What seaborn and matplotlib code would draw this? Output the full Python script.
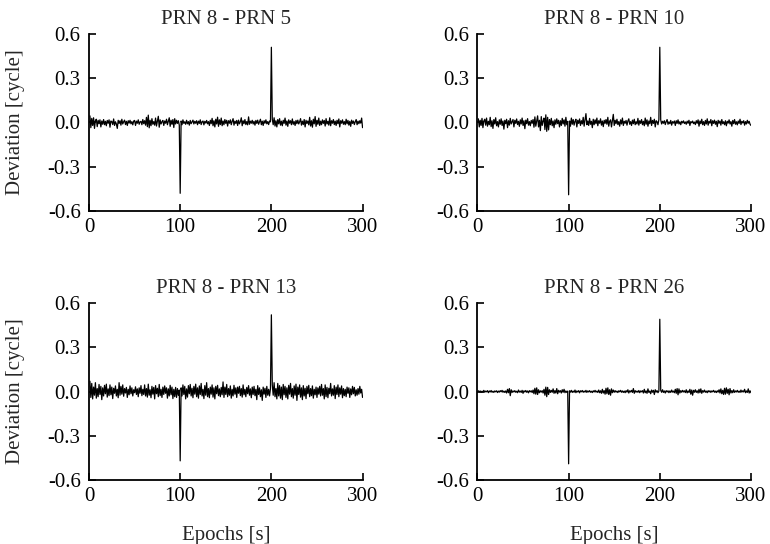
import numpy as np
import pandas as pd
import matplotlib
matplotlib.use("Agg")
import matplotlib.pyplot as plt
import seaborn as sns

# deviations in thousandths of a cycle, epochs 1..300
EPOCHS = list(range(1, 301))
TITLES = ["PRN 8 - PRN 5", "PRN 8 - PRN 10", "PRN 8 - PRN 13", "PRN 8 - PRN 26"]

PRN5 = [
    45, -35, 28, -20, 32, -40, 12, 22, -28, 15, -8, 18, -30, 10, -12, 20, -15, 8, -22, 14, -5, 18, -32, 10, 6, -14, 24, -20, 5, -10,
    -40, 15, -6, 12, -18, 22, -10, 5, 16, -14, 8, -20, 12, -4, 15, -9, 6, -16, 10, 14, -20, 9, -5, 18, -12, 4, 8, -15, 20, -8,
    12, -18, 35, -28, 50, -36, 15, -22, 26, -12, 6, -18, 30, -24, 10, 42, -32, 18, -10, 5, 14, -20, 10, -5, 22, -15, 8, 32, -26, 15,
    -12, 20, -34, 26, -10, 15, -6, 12, -18, -480, 10, -15, 18, -6, 5, -12, 15, -9, 6, -18, 14, -8, 4, 16, -10, 8, -5, 12, -15, 9,
    -6, 18, -14, 5, 10, -16, 8, -4, 14, -9, 6, -20, 15, -8, 28, -22, 12, -30, 22, -10, 36, -26, 18, -14, 30, -22, 10, -15, 20, -6,
    15, -24, 12, -5, 18, -15, 8, 26, -18, 9, -6, 14, -20, 16, -9, 5, 32, -22, 12, -8, 20, -14, 6, -16, 38, -12, 9, -5, 15, -10,
    8, -18, 14, -6, 16, -12, 5, 22, -15, 9, -20, 12, -5, 18, -9, 6, -14, 10, 4, 510, 22, -15, 32, -24, 12, -30, 20, -9, 26, -18,
    9, -22, 15, -6, 30, -18, 10, -26, 18, -5, 12, -15, 24, -12, 6, -20, 14, -8, 16, -10, 5, 26, -18, 9, -14, 20, -30, 15, -6, 10,
    -16, 35, -24, 12, -32, 22, -9, 40, -26, 15, -12, 30, -20, 9, -15, 18, -6, 14, -24, 26, -10, 8, -18, 32, -22, 12, -5, 20, -14, 9,
    -20, 15, -8, 24, -30, 12, -5, 18, -12, 6, -15, 22, -9, 14, -18, 8, -26, 16, -6, 10, -14, 5, 20, -15, 9, -8, 12, -4, 30, -35,
]

PRN10 = [
    25, -30, 15, -20, 28, -35, 10, 22, -18, 30, -25, 8, -15, 35, -28, 12, -40, 20, -10, 32, -22, 6, -30, 18, -12, 25, -20, 10, -45, 15,
    -8, 22, -35, 12, -18, 28, -10, 5, 20, -30, 15, -6, 24, -14, 8, -26, 18, -10, 30, -20, 12, -42, 16, -8, 26, -18, 6, -22, 14, -5,
    20, -32, 38, -25, 12, 45, -30, 15, -55, 40, -20, 10, 30, -48, 52, -60, 35, -50, 20, -15, 28, -22, 10, -35, 18, -12, 25, -8, 15, -30,
    12, -20, 28, -10, 18, -25, 35, -15, 8, -490, 10, -25, 30, -12, 20, -18, 8, 22, -30, 15, -6, 24, -20, 12, -10, 35, -25, 18, 60, -15,
    10, -20, 28, -12, 8, -35, 22, -15, 18, -8, 30, -22, 12, -5, 25, -18, 10, -28, 15, -6, 20, -12, 35, -25, 8, 18, -30, 12, 55, -20,
    15, -8, 22, -14, 6, -25, 18, -10, 30, -20, 8, -5, 14, -18, 10, 25, -12, 6, -20, 16, -8, 22, -15, 5, -10, 28, -18, 12, -6, 20,
    -15, 8, -22, 30, -12, 18, -25, 10, -8, 35, -20, 14, -6, 22, -30, 12, 5, -15, 20, 510, 18, -10, 8, -5, 12, -14, 6, 20, -12, 4,
    -8, 14, -18, 6, -4, 10, -20, 12, -6, 18, -10, 5, -15, 8, -3, 11, -7, 4, -12, 9, -5, 15, -20, 6, -2, 10, -8, 3, -14, 12,
    -5, 18, -25, 10, -8, 22, -15, 6, -20, 14, -10, 25, -18, 8, -4, 20, -22, 12, -6, 16, -12, 8, -28, 15, -5, 10, -18, 20, -8, 5,
    -15, 12, -22, 8, -4, 18, -10, 6, -25, 14, -8, 20, -12, 5, -16, 10, -6, 22, -14, 8, -3, 12, -18, 6, -10, 15, -5, 8, -12, -20,
]

PRN13 = [
    70, -40, 55, -50, 30, -25, 60, -45, 20, -35, 48, -20, 35, -55, 25, -30, 42, -15, 50, -38, 18, -28, 45, -22, 30, -48, 22, -12, 38, -30,
    15, -42, 60, -25, 35, -18, 45, -32, 20, -10, 28, -40, 15, -22, 38, -15, 25, -30, 12, -8, 32, -20, 18, -35, 25, -12, 40, -28, 15, -20,
    45, -30, 20, -38, 50, -25, 12, -42, 35, -18, 28, -50, 40, -15, 22, -35, 48, -28, 15, -40, 30, -20, 38, -12, 25, -45, 18, -30, 42, -22,
    30, -48, 15, -35, 28, -40, 20, -25, 10, -470, 25, -30, 45, -20, 35, -50, 18, -38, 40, -15, 48, -30, 22, -42, 35, -18, 50, -35, 25, -45,
    38, -20, 55, -30, 15, -48, 40, -25, 60, -35, 20, -42, 30, -18, 45, -38, 25, -50, 35, -15, 42, -28, 18, -35, 28, -22, 65, -40, 30, -20,
    48, -35, 20, -25, 38, -45, 15, -30, 42, -18, 25, -40, 30, -12, 35, -28, 20, -38, 45, -22, 15, -35, 28, -15, 40, -25, 18, -42, 30, -20,
    35, -28, 15, -55, 40, -20, 25, -35, 12, -60, 30, -18, 22, -40, 35, -25, 15, -30, 20, 520, 45, -25, 60, -35, 20, -50, 55, -30, 40, -45,
    30, -55, 48, -22, 35, -40, 25, -50, 42, -18, 55, -35, 20, -45, 38, -25, 50, -60, 30, -20, 45, -38, 25, -55, 40, -30, 22, -48, 35, -15,
    42, -35, 20, -28, 38, -45, 15, -22, 30, -40, 25, -18, 35, -30, 48, -25, 20, -50, 45, -35, 28, -42, 22, -15, 55, -30, 18, -25, 40, -48,
    30, -20, 45, -35, 25, -18, 38, -42, 20, -28, 15, -35, 30, -12, 25, -40, 18, -22, 35, -15, 28, -30, 12, -25, 20, -18, 35, -10, 15, -40,
]

PRN26 = [
    5, -3, 4, -6, 2, -4, 8, -5, 3, -2, 6, -8, 4, -3, 7, -5, 2, -6, 4, -2, 5, -7, 3, -4, 6, -2, 8, -5, 3, -6,
    4, -10, 15, -8, 20, -28, 12, -6, 4, -3, 6, -5, 2, -8, 10, -4, 3, -6, 8, -12, 5, -3, 7, -5, 4, -9, 6, -2, 5, -7,
    10, -15, 22, -18, 25, -20, 12, -8, 5, -4, 6, -10, 15, -25, 30, -35, 28, -20, 12, -6, 8, -5, 18, -12, 6, -10, 20, -15, 8, -4,
    6, -10, 12, -5, 15, -8, 4, -6, 3, -490, 5, -4, 8, -6, 3, -5, 10, -8, 4, -3, 6, -9, 5, -2, 7, -5, 3, -4, 8, -6,
    4, -3, 6, -5, 2, -7, 5, -3, 8, -4, 3, -6, 10, -8, 5, -12, 15, -10, 6, -18, 22, -15, 25, -20, 12, -25, 18, -8, 10, -5,
    6, -4, 3, -7, 5, -2, 8, -5, 4, -6, 3, -8, 6, -4, 12, -10, 5, -3, 8, -6, 20, -12, 6, -4, 3, -5, 7, -8, 4, -2,
    6, -10, 15, -8, 4, -12, 18, -6, 3, -15, 10, -5, 8, -20, 12, -4, 6, -8, 3, 490, 8, -5, 12, -6, 4, -10, 6, -3, 5, -8,
    4, -6, 10, -4, 3, -8, 15, -12, 20, -22, 18, -10, 6, -5, 8, -3, 5, -7, 12, -9, 4, -6, 15, -18, 10, -25, 8, -5, 12, -6,
    5, -10, 15, -8, 18, -12, 6, -4, 10, -5, 3, -8, 6, -3, 5, -6, 4, -2, 8, -5, 3, -7, 5, -4, 12, -10, 18, -15, 8, -20,
    22, -18, 25, -12, 15, -22, 20, -10, 6, -8, 12, -6, 4, -3, 8, -5, 3, -6, 10, -4, 5, -3, 15, -8, 4, -6, 18, -10, 5, -8,
]

SERIES = [PRN5, PRN10, PRN13, PRN26]

sns.set_theme(style="ticks")
plt.rcParams["font.family"] = ["Liberation Serif", "DejaVu Serif"]
plt.rcParams["axes.unicode_minus"] = False
plt.rcParams["xtick.direction"] = "in"
plt.rcParams["ytick.direction"] = "in"

fig, axes = plt.subplots(2, 2, figsize=(7.7, 5.44), dpi=100)
fig.subplots_adjust(left=0.1156, right=0.9753, top=0.9375, bottom=0.1176,
                    wspace=0.42, hspace=0.52)

FS = 15

for i, ax in enumerate(axes.flat):
    df = pd.DataFrame({"epoch": EPOCHS, "dev": np.array(SERIES[i]) / 1000.0})
    sns.lineplot(data=df, x="epoch", y="dev", ax=ax, color="black", lw=0.9)
    ax.set_xlim(0, 300)
    ax.set_ylim(-0.6, 0.6)
    ax.set_xticks([0, 100, 200, 300])
    ax.set_yticks([-0.6, -0.3, 0.0, 0.3, 0.6])
    ax.set_yticklabels(["{:.1f}".format(v) for v in [-0.6, -0.3, 0.0, 0.3, 0.6]])
    ax.tick_params(labelsize=FS, length=5, width=1.2, colors="black")
    ax.tick_params(axis="y", pad=6)
    ax.tick_params(axis="x", pad=5)
    ax.set_title(TITLES[i], fontsize=FS, pad=7)
    for s in ["left", "bottom"]:
        ax.spines[s].set_linewidth(1.3)
        ax.spines[s].set_color("black")
    sns.despine(ax=ax)
    ax.set_xlabel("")
    ax.set_ylabel("")
    if i % 2 == 0:
        ax.set_ylabel("Deviation [cycle]", fontsize=FS)
        ax.yaxis.set_label_coords(-0.235, 0.5)
    if i >= 2:
        ax.set_xlabel("Epochs [s]", fontsize=FS)
        ax.xaxis.set_label_coords(0.5, -0.26)

fig.savefig("out.png", dpi=100)
